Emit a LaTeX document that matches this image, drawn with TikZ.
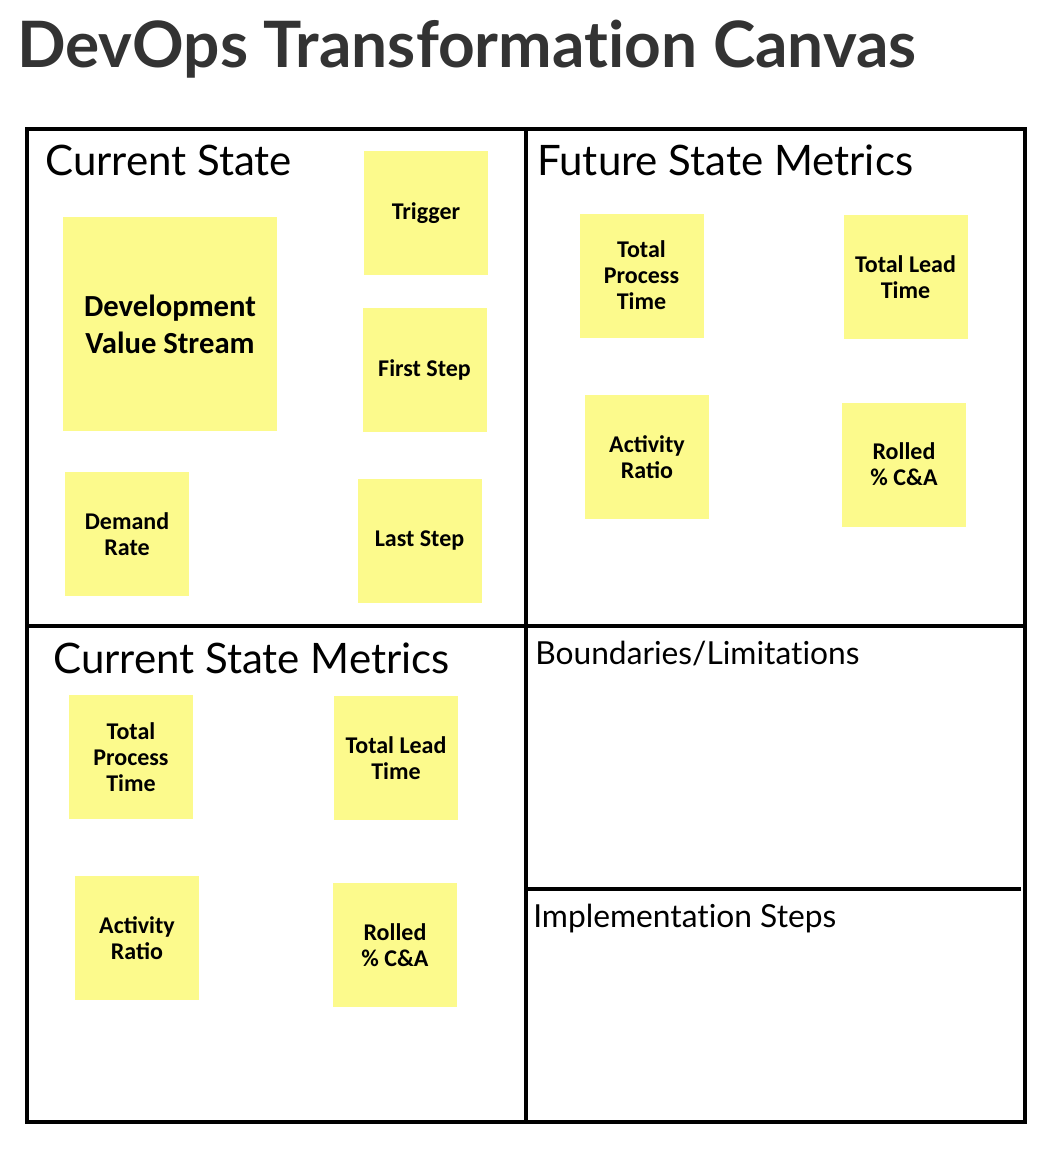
\documentclass[tikz,border=0pt]{standalone}
\usepackage{fontspec}
\setmainfont[Ligatures=NoCommon]{Lato}
\newfontfamily\notefont{Carlito}
\definecolor{sticky}{RGB}{252,250,140}
\definecolor{titlegray}{RGB}{51,51,51}
\begin{document}
\begin{tikzpicture}[x=0.75pt,y=-0.75pt,
  note/.style={fill=sticky,inner sep=0pt,minimum width=93pt,minimum height=93pt,
    align=center,font=\notefont\bfseries\fontsize{18}{19.5}\selectfont},
  bignote/.style={note,minimum width=160.5pt,minimum height=160.5pt,
    font=\notefont\bfseries\fontsize{23}{27.75}\selectfont},
  heading/.style={anchor=base west,inner sep=0pt,font=\fontsize{31.5}{36}\selectfont},
  subheading/.style={anchor=base west,inner sep=0pt,font=\fontsize{23.8}{28}\selectfont},
  frame/.style={line width=2.3pt,black}]
\useasboundingbox (0,0) rectangle (1050,1154);
% title
\node[anchor=base west,inner sep=0pt,text=titlegray,font=\bfseries\fontsize{48}{52}\selectfont] (title) at (17,67) {DevOps Transformation Canvas};
% frame
\coordinate (tl) at (27,129);
\coordinate (br) at (1025,1122);
\draw[frame] (tl) rectangle (br);
\coordinate (vt) at (526,129);
\coordinate (vb) at (526,1122);
\draw[frame] (vt) -- (vb);
\coordinate (hl) at (27,626);
\coordinate (hr) at (1025,626);
\draw[frame] (hl) -- (hr);
\coordinate (ml) at (526,889);
\coordinate (mr) at (1021,889);
\draw[frame] (ml) -- (mr);
% headings
\node[heading] (cs) at (45,175) {Current State};
\node[heading] (fsm) at (537,175) {Future State Metrics};
\node[heading] (csm) at (53,673) {Current State Metrics};
\node[subheading] (bl) at (535,664) {Boundaries/Limitations};
\node[subheading] (is) at (533,927) {Implementation Steps};
% current state notes
\node[bignote] (dvs) at (170,324) {Development\\Value Stream};
\node[note] (trig) at (426,213) {Trigger};
\node[note] (first) at (424.5,369.5) {First Step};
\node[note] (demand) at (127,534) {Demand\\Rate};
\node[note] (last) at (419.5,540.5) {Last Step};
% future state metrics notes
\node[note] (ftpt) at (641.5,275.5) {Total\\Process\\Time};
\node[note] (ftlt) at (905.5,277) {Total Lead\\Time};
\node[note] (far) at (647,457) {Activity\\Ratio};
\node[note] (frca) at (904,464.5) {Rolled\\\% C\&A};
% current state metrics notes
\node[note] (ctpt) at (131,757) {Total\\Process\\Time};
\node[note] (ctlt) at (396,758) {Total Lead\\Time};
\node[note] (car) at (137,938) {Activity\\Ratio};
\node[note] (crca) at (395,945) {Rolled\\\% C\&A};
\end{tikzpicture}
\end{document}
